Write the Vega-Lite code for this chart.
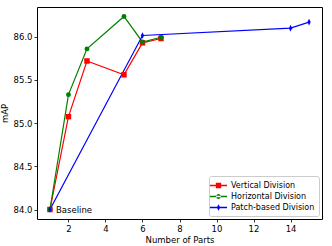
{
  "$schema": "https://vega.github.io/schema/vega-lite/v6.json",
  "width": 285,
  "height": 212,
  "autosize": {"type": "none"},
  "padding": {"left": 37, "top": 7, "right": 10, "bottom": 27},
  "background": "white",
  "config": {
    "view": {"stroke": "black", "strokeWidth": 1},
    "font": "DejaVu Sans",
    "axis": {
      "grid": false,
      "domain": false,
      "tickColor": "black",
      "tickSize": 3,
      "tickWidth": 0.8,
      "labelColor": "black",
      "labelFontSize": 8.5,
      "labelPadding": 2,
      "titleColor": "black",
      "titleFontSize": 8.5,
      "titleFontWeight": "normal",
      "labelFont": "DejaVu Sans",
      "titleFont": "DejaVu Sans"
    }
  },
  "data": {
    "values": [
      {"parts": 1, "mAP": 84.0, "series": "Vertical Division"},
      {"parts": 2, "mAP": 85.075, "series": "Vertical Division"},
      {"parts": 3, "mAP": 85.72, "series": "Vertical Division"},
      {"parts": 5, "mAP": 85.56, "series": "Vertical Division"},
      {"parts": 6, "mAP": 85.93, "series": "Vertical Division"},
      {"parts": 7, "mAP": 85.98, "series": "Vertical Division"},
      {"parts": 1, "mAP": 84.0, "series": "Horizontal Division"},
      {"parts": 2, "mAP": 85.33, "series": "Horizontal Division"},
      {"parts": 3, "mAP": 85.86, "series": "Horizontal Division"},
      {"parts": 5, "mAP": 86.235, "series": "Horizontal Division"},
      {"parts": 6, "mAP": 85.94, "series": "Horizontal Division"},
      {"parts": 7, "mAP": 85.995, "series": "Horizontal Division"},
      {"parts": 1, "mAP": 84.0, "series": "Patch-based Division"},
      {"parts": 6, "mAP": 86.015, "series": "Patch-based Division"},
      {"parts": 14, "mAP": 86.1, "series": "Patch-based Division"},
      {"parts": 15, "mAP": 86.17, "series": "Patch-based Division"}
    ]
  },
  "encoding": {
    "x": {
      "field": "parts", "type": "quantitative",
      "scale": {"domain": [0.3, 15.7], "nice": false, "zero": false},
      "axis": {"values": [2, 4, 6, 8, 10, 12, 14], "title": "Number of Parts", "titlePadding": 3}
    },
    "y": {
      "field": "mAP", "type": "quantitative",
      "scale": {"domain": [83.89, 86.345], "nice": false, "zero": false},
      "axis": {"values": [84.0, 84.5, 85.0, 85.5, 86.0], "format": ".1f", "title": "mAP", "titlePadding": 4}
    },
    "color": {
      "field": "series", "type": "nominal",
      "scale": {
        "domain": ["Vertical Division", "Horizontal Division", "Patch-based Division"],
        "range": ["#ff0000", "#008000", "#0000ff"]
      },
      "legend": {
        "title": null,
        "orient": "bottom-right",
        "offset": 3,
        "padding": 4,
        "fillColor": "white",
        "strokeColor": "#cccccc",
        "cornerRadius": 2,
        "labelFontSize": 8,
        "labelFont": "DejaVu Sans",
        "labelColor": "black",
        "symbolSize": 113,
        "rowPadding": 1,
        "labelOffset": 7,
        "symbolStrokeWidth": 0,
        "symbolOpacity": 1,
        "encode": {
          "symbols": {
            "update": {
              "shape": {"signal": "datum.value === 'Vertical Division' ? 'M-1.6,-0.12H1.6V0.12H-1.6Z M-0.5,-0.5H0.5V0.5H-0.5Z' : datum.value === 'Horizontal Division' ? 'M-1.6,-0.12H1.6V0.12H-1.6Z M-0.45,0A0.45,0.45,0,1,0,0.45,0A0.45,0.45,0,1,0,-0.45,0Z' : 'M-1.6,-0.12H1.6V0.12H-1.6Z M-0.32,0L0,-0.62L0.32,0L0,0.62Z'"},
              "fill": {"signal": "datum.value === 'Vertical Division' ? '#ff0000' : datum.value === 'Horizontal Division' ? '#008000' : '#0000ff'"},
              "strokeWidth": {"value": 0},
              "opacity": {"value": 1}
            }
          }
        }
      }
    }
  },
  "layer": [
    {
      "mark": {"type": "line", "strokeWidth": 1.2},
      "encoding": {"detail": {"field": "series"}}
    },
    {
      "transform": [{"filter": "datum.series === 'Vertical Division'"}],
      "mark": {"type": "point", "filled": true, "opacity": 1, "size": 30, "shape": "square"}
    },
    {
      "transform": [{"filter": "datum.series === 'Horizontal Division'"}],
      "mark": {"type": "point", "filled": true, "opacity": 1, "size": 24, "shape": "circle"}
    },
    {
      "transform": [{"filter": "datum.series === 'Patch-based Division'"}],
      "mark": {"type": "point", "filled": true, "opacity": 1, "size": 36, "shape": "M-0.55,0L0,-1.1L0.55,0L0,1.1Z"}
    },
    {
      "transform": [{"filter": "datum.parts === 1 && datum.series === 'Vertical Division'"}],
      "mark": {"type": "text", "align": "left", "baseline": "middle", "dx": 6, "fontSize": 8.5, "font": "DejaVu Sans"},
      "encoding": {"text": {"value": "Baseline"}, "color": {"value": "black"}}
    }
  ]
}
